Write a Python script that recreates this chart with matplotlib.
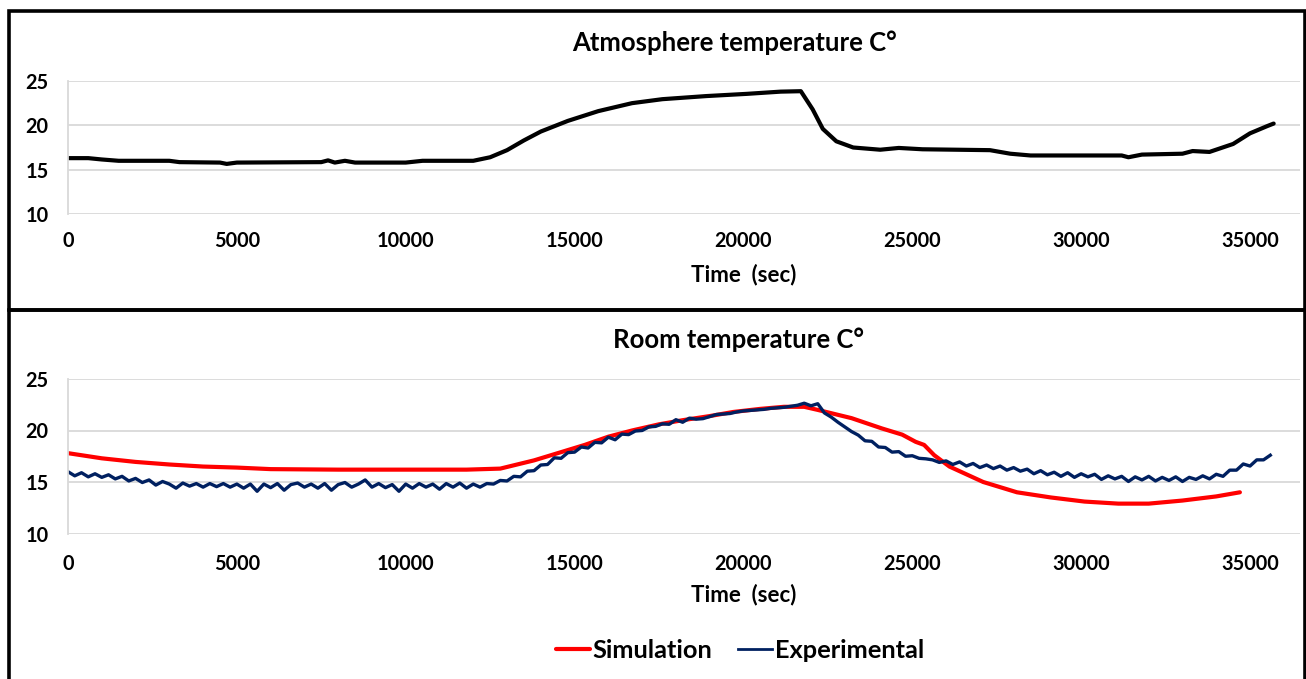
import numpy as np
import matplotlib
matplotlib.use("Agg")
from matplotlib import pyplot as plt
from matplotlib.patches import Rectangle

plt.rcParams['font.family'] = ['Lato', 'DejaVu Sans']
plt.rcParams['font.weight'] = 'bold'

# atmosphere temperature (top panel)
atm_t = [0, 600, 1000, 1500, 3000, 3300, 4500, 4700, 5000, 7500, 7700, 7900, 8200, 8500,
         10000, 10500, 12000, 12500, 13000, 13500, 14000, 14800, 15700, 16700, 17600, 18900,
         20100, 21100, 21700, 22050, 22350, 22750, 23250, 24050, 24600, 25300, 27300, 27900,
         28500, 31200, 31400, 31800, 33000, 33300, 33800, 34500, 35000, 35500, 35700]
atm_v = [16.3, 16.3, 16.15, 16.0, 16.0, 15.85, 15.8, 15.65, 15.8, 15.85, 16.05, 15.8, 16.0, 15.8,
         15.8, 16.0, 16.0, 16.4, 17.2, 18.3, 19.3, 20.5, 21.6, 22.5, 22.95, 23.3,
         23.55, 23.8, 23.85, 21.8, 19.6, 18.2, 17.5, 17.25, 17.45, 17.3, 17.2, 16.8,
         16.6, 16.6, 16.4, 16.7, 16.8, 17.1, 17.0, 17.9, 19.1, 19.9, 20.2]

# room temperature, simulation
sim_t = [0, 1000, 2000, 3000, 4000, 5000, 6000, 8000, 10000, 11800, 12800, 13800, 14500, 15300,
         16000, 16700, 17500, 18200, 19000, 19700, 20500, 21200, 21800, 22200, 23200, 24100,
         24700, 25100, 25350, 25650, 26100, 27100, 28100, 29100, 30100, 31100, 32000, 33000,
         34000, 34700]
sim_v = [17.8, 17.3, 16.95, 16.7, 16.5, 16.4, 16.25, 16.2, 16.2, 16.2, 16.3, 17.1, 17.8, 18.6,
         19.4, 20.0, 20.6, 21.0, 21.4, 21.8, 22.1, 22.3, 22.3, 22.0, 21.2, 20.2,
         19.6, 18.9, 18.6, 17.6, 16.5, 15.0, 14.0, 13.5, 13.1, 12.9, 12.9, 13.2,
         13.6, 14.0]

# room temperature, experimental (logged every 200 s)
exp_t = np.arange(0, 35601, 200)
exp_v = [16.0, 15.6, 15.9, 15.5, 15.8, 15.45, 15.7, 15.3, 15.55, 15.1,
         15.35, 14.95, 15.2, 14.7, 15.05, 14.8, 14.4, 14.9, 14.6, 14.85,
         14.5, 14.85, 14.55, 14.85, 14.5, 14.8, 14.4, 14.8, 14.1, 14.8,
         14.45, 14.85, 14.2, 14.75, 14.9, 14.5, 14.8, 14.4, 14.85, 14.2,
         14.75, 14.95, 14.5, 14.8, 15.2, 14.5, 14.85, 14.45, 14.75, 14.1,
         14.8, 14.4, 14.85, 14.5, 14.8, 14.3, 14.85, 14.5, 14.9, 14.4,
         14.8, 14.5, 14.85, 14.8, 15.15, 15.1, 15.55, 15.5, 16.05, 16.1,
         16.65, 16.7, 17.35, 17.3, 17.85, 17.9, 18.4, 18.3, 18.85, 18.8,
         19.35, 19.1, 19.65, 19.6, 19.95, 20.0, 20.35, 20.4, 20.65, 20.6,
         21.05, 20.8, 21.2, 21.1, 21.15, 21.35, 21.55, 21.6, 21.65, 21.8,
         21.9, 21.95, 22.0, 22.05, 22.15, 22.2, 22.25, 22.35, 22.45, 22.65,
         22.4, 22.6, 21.7, 21.3, 20.8, 20.35, 19.9, 19.55, 19.0, 18.95,
         18.4, 18.35, 17.9, 17.95, 17.5, 17.55, 17.3, 17.25, 17.15, 16.9,
         17.05, 16.7, 16.95, 16.55, 16.8, 16.4, 16.65, 16.3, 16.55, 16.15,
         16.4, 16.05, 16.25, 15.8, 16.1, 15.7, 15.95, 15.55, 15.9, 15.45,
         15.8, 15.5, 15.75, 15.25, 15.6, 15.3, 15.55, 15.05, 15.5, 15.2,
         15.55, 15.1, 15.45, 15.15, 15.5, 15.05, 15.45, 15.25, 15.6, 15.3,
         15.75, 15.55, 16.15, 16.15, 16.75, 16.55, 17.15, 17.15, 17.6]

x_ticks = [0, 5000, 10000, 15000, 20000, 25000, 30000, 35000]
y_ticks = [10, 15, 20, 25]

W, H = 1306, 679
fig = plt.figure(figsize=(W / 100, H / 100), dpi=100)

def px_box(x0, y0, x1, y1):
    # pixel box (top-left origin) -> figure fraction rect
    return [x0 / W, 1 - y1 / H, (x1 - x0) / W, (y1 - y0) / H]

ax1 = fig.add_axes(px_box(68, 81, 1300, 214))
ax2 = fig.add_axes(px_box(68, 379, 1300, 533.5))

for ax in (ax1, ax2):
    ax.set_xlim(0, 36480)
    ax.set_ylim(10, 25)
    ax.set_xticks(x_ticks)
    ax.set_yticks(y_ticks)
    ax.grid(axis='y', color='#d9d9d9', lw=1.3)
    ax.set_axisbelow(True)
    for s in ('top', 'right', 'bottom'):
        ax.spines[s].set_visible(False)
    ax.spines['left'].set_color('#d9d9d9')
    ax.spines['left'].set_linewidth(1.3)
    ax.tick_params(length=0, labelsize=14.3)
    ax.tick_params(axis='y', pad=14)
    for lab in ax.get_xticklabels() + ax.get_yticklabels():
        lab.set_fontweight('bold')

ax1.tick_params(axis='x', pad=12)
ax2.tick_params(axis='x', pad=14.5)

ax1.plot(atm_t, atm_v, color='black', lw=3, solid_capstyle='round')
l_sim, = ax2.plot(sim_t, sim_v, color='#ff0000', lw=3, solid_capstyle='round', label='Simulation')
l_exp, = ax2.plot(exp_t, exp_v, color='#002060', lw=2.4, label='Experimental')

fig.text(735 / W, 1 - 43 / H, 'Atmosphere temperature C°', ha='center', va='center',
         fontsize=18.5, fontweight='bold')
fig.text(738 / W, 1 - 340 / H, 'Room temperature C°', ha='center', va='center',
         fontsize=18.5, fontweight='bold')
fig.text(744 / W, 1 - 275 / H, 'Time  (sec)', ha='center', va='center',
         fontsize=16, fontweight='bold')
fig.text(744 / W, 1 - 595 / H, 'Time  (sec)', ha='center', va='center',
         fontsize=16, fontweight='bold')

leg = fig.legend(handles=[l_sim, l_exp], loc='center', bbox_to_anchor=(740 / W, 1 - 650 / H),
                 ncol=2, frameon=False, handlelength=1.35, handletextpad=0.1,
                 columnspacing=1.0, prop={'weight': 'bold', 'size': 18.3})
leg.get_lines()[1].set_linewidth(2)

# panel borders
for (x0, y0, x1, y1) in [(8.7, 10.7, 1304.5, 310), (8.7, 310, 1304.5, 700)]:
    fig.patches.append(Rectangle((x0 / W, 1 - y1 / H), (x1 - x0) / W, (y1 - y0) / H,
                                 transform=fig.transFigure, fill=False, ec='black', lw=2.6))

fig.savefig('out.png', dpi=100)
